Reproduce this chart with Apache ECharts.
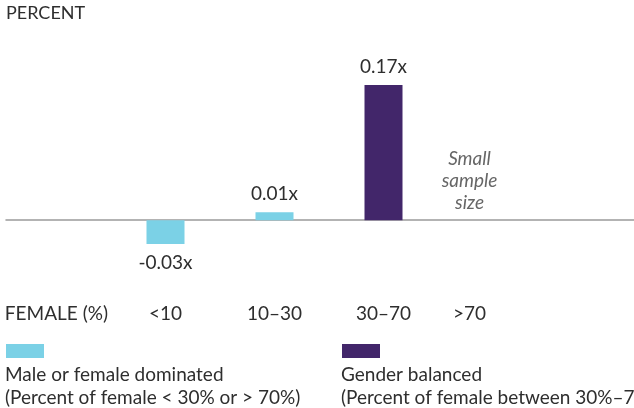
<!DOCTYPE html>
<html>
<head>
<meta charset="utf-8">
<script src="https://cdn.jsdelivr.net/npm/echarts@6/dist/echarts.min.js"></script>
<style>html,body{margin:0;padding:0;background:#fff}#c{width:634px;height:408px}</style>
</head>
<body>
<div id="c"></div>
<script>
var categories = ['<10', '10–30', '30–70', '>70'];
var dominatedValues = [-0.03, 0.01, '-', '-'];
var balancedValues = ['-', '-', 0.17, '-'];
var seriesNames = ['Male or female dominated', 'Gender balanced'];
var legendNotes = ['(Percent of female < 30% or > 70%)', '(Percent of female between 30%–70%)'];
var yAxisTitle = 'PERCENT';
var xAxisTitle = 'FEMALE (%)';
var annotation = ['Small', 'sample', 'size'];

var FONT = 'Lato';
var TXT = '#2e2e2e';
var BLUE = '#7BD1E6';
var PURPLE = '#42266A';

function fmt(p) { return p.value.toFixed(2) + 'x'; }
function withLabelPos(arr) {
  return arr.map(function (v) {
    if (v === '-') return v;
    return { value: v, label: { position: v < 0 ? 'bottom' : 'top' } };
  });
}
var yMin = -0.05, yMax = 0.2;

var chart = echarts.init(document.getElementById('c'), null, { renderer: 'canvas' });
chart.setOption({
  animation: false,
  textStyle: { fontFamily: FONT },
  title: [
    { text: yAxisTitle, left: 6, top: 4, padding: 0, textStyle: { fontFamily: FONT, fontSize: 18, fontWeight: 'normal', color: TXT } },
    { text: seriesNames[0] + '\n' + legendNotes[0], left: 5, top: 363, padding: 0, textStyle: { fontFamily: FONT, fontSize: 19, lineHeight: 23, fontWeight: 'normal', color: TXT } },
    { text: seriesNames[1] + '\n' + legendNotes[1], left: 341, top: 363, padding: 0, textStyle: { fontFamily: FONT, fontSize: 19, lineHeight: 23, fontWeight: 'normal', color: TXT } }
  ],
  legend: [
    { data: [seriesNames[0]], left: 6, top: 344, padding: 0, itemWidth: 38, itemHeight: 14, icon: 'rect', formatter: function () { return ''; }, selectedMode: false },
    { data: [seriesNames[1]], left: 342, top: 344, padding: 0, itemWidth: 38, itemHeight: 14, icon: 'rect', formatter: function () { return ''; }, selectedMode: false }
  ],
  grid: [
    { left: 111, width: 436, top: 61, height: 199 },
    { left: 6, right: 0, top: 61, height: 199 }
  ],
  xAxis: [
    { gridIndex: 0, type: 'category',
      data: categories.map(function (c, i) { return i === 3 ? { value: c, textStyle: { padding: [0, 46, 0, 0] } } : c; }),
      axisLine: { show: false, onZero: false }, axisTick: { show: false },
      axisLabel: { interval: 0, margin: 44, fontFamily: FONT, fontSize: 19, color: TXT },
      name: xAxisTitle, nameLocation: 'start', nameGap: 3,
      nameTextStyle: { fontFamily: FONT, fontSize: 19, color: TXT, verticalAlign: 'top', padding: [44, 0, 0, 0] } },
    { gridIndex: 1, type: 'value', min: 0, max: 1, axisLine: { show: true, onZero: true, lineStyle: { color: '#9a9a9a', width: 1.5 } }, axisTick: { show: false }, axisLabel: { show: false }, splitLine: { show: false } }
  ],
  yAxis: [
    { gridIndex: 0, type: 'value', min: yMin, max: yMax, show: false },
    { gridIndex: 1, type: 'value', min: yMin, max: yMax, show: false }
  ],
  series: [
    { name: seriesNames[0], type: 'bar', stack: 's', xAxisIndex: 0, yAxisIndex: 0, barWidth: 38,
      itemStyle: { color: BLUE },
      label: { show: true, formatter: fmt, distance: 9, fontFamily: FONT, fontSize: 19, color: TXT },
      data: withLabelPos(dominatedValues),
      markPoint: {
        symbol: 'rect', symbolSize: 0, silent: true,
        label: { show: true, formatter: annotation.join('\n'), fontFamily: FONT, fontStyle: 'italic', fontSize: 19, lineHeight: 22, color: '#666666', offset: [-23, 0] },
        data: [{ coord: [categories[3], 0.05] }]
      }
    },
    { name: seriesNames[1], type: 'bar', stack: 's', xAxisIndex: 0, yAxisIndex: 0, barWidth: 38,
      itemStyle: { color: PURPLE },
      label: { show: true, formatter: fmt, distance: 9, fontFamily: FONT, fontSize: 19, color: TXT },
      data: withLabelPos(balancedValues) }
  ]
});
</script>
</body>
</html>
